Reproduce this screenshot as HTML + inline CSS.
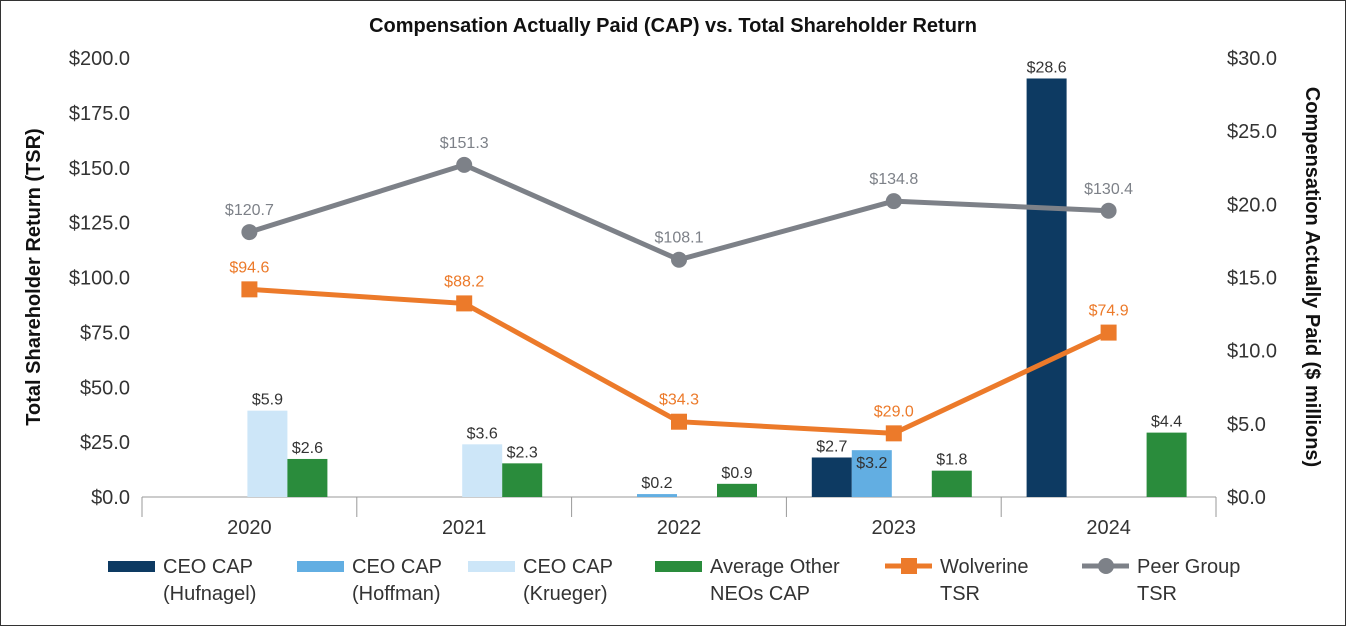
<!DOCTYPE html>
<html><head><meta charset="utf-8"><style>
html,body{margin:0;padding:0;background:#fff}
svg{display:block;font-family:"Liberation Sans",sans-serif}
</style></head><body>
<svg id="chart" width="1346" height="626" viewBox="0 0 1346 626">
<rect x="0.5" y="0.5" width="1345" height="625" fill="#fff" stroke="#333"/>
<text x="673" y="32" text-anchor="middle" font-size="20" font-weight="bold" fill="#111">Compensation Actually Paid (CAP) vs. Total Shareholder Return</text>
<text transform="translate(40,277) rotate(-90)" text-anchor="middle" font-size="20" font-weight="bold" fill="#111">Total Shareholder Return (TSR)</text>
<text transform="translate(1306,277) rotate(90)" text-anchor="middle" font-size="20" font-weight="bold" fill="#111">Compensation Actually Paid ($ millions)</text>
<g id="plot"></g>
<g id="legend"></g>
</svg>
<script>
const categories = ["2020","2021","2022","2023","2024"];
const hufnagel = [null,null,null,2.7,28.6];
const hoffman = [null,null,0.2,3.2,null];
const krueger = [5.9,3.6,null,null,null];
const avgNeo = [2.6,2.3,0.9,1.8,4.4];
const wolverineTsr = [94.6,88.2,34.3,29.0,74.9];
const peerTsr = [120.7,151.3,108.1,134.8,130.4];
const leftTicks = [0,25,50,75,100,125,150,175,200];
const rightTicks = [0,5,10,15,20,25,30];

const NS="http://www.w3.org/2000/svg";
const plot=document.getElementById('plot');
const X0=142,X1=1216,Y0=497,Y1=58;
const bw=(X1-X0)/categories.length;
const cx=i=>X0+bw*(i+0.5);
const yL=v=>Y0-(v/200)*(Y0-Y1);
const yR=v=>Y0-(v/30)*(Y0-Y1);
function mk(tag,attrs,parent){const e=document.createElementNS(NS,tag);for(const k in attrs)e.setAttribute(k,attrs[k]);(parent||plot).appendChild(e);return e;}
function txt(x,y,s,attrs){const t=mk('text',Object.assign({x:x,y:y},attrs));t.textContent=s;return t;}

leftTicks.forEach(v=>{
  const t=txt(130,yL(v)+7,'$'+v.toFixed(1),{'text-anchor':'end','font-size':20,fill:'#333'});
  
  
});
rightTicks.forEach(v=>{
  const t=txt(1227,yR(v)+7,'$'+v.toFixed(1),{'font-size':20,fill:'#333'});
  
  
});
const ax=mk('line',{x1:X0,x2:X1,y1:Y0,y2:Y0,stroke:'#999','stroke-width':1});


for(let i=0;i<=categories.length;i++){
  const tk=mk('line',{x1:X0+bw*i,x2:X0+bw*i,y1:Y0,y2:Y0+20,stroke:'#999'});
  
  
}
categories.forEach((c,i)=>{
  const t=txt(cx(i),Y0+37,c,{'text-anchor':'middle','font-size':20,fill:'#333'});
  
  
});

const series=[[hufnagel,'#0d3a62',-82,'hufnagel'],[hoffman,'#62aee2',-42,'hoffman'],[krueger,'#cde6f8',-2,'krueger'],[avgNeo,'#2a8c3c',38,'avg-neo']];
series.forEach(([arr,col,off,nm])=>{
  arr.forEach((v,i)=>{
    if(v==null)return;
    const y=yR(v);
    const r=mk('rect',{x:cx(i)+off,y:y,width:40,height:Y0-y,fill:col});
    
    
    const inside=(nm==='hoffman'&&v>3);
    const t=txt(cx(i)+off+20,inside?y+18:y-6,'$'+v.toFixed(1),{'text-anchor':'middle','font-size':16,fill:'#333'});
    
    
  });
});

function line(arr,col,nm,square){
  const pts=arr.map((v,i)=>[cx(i),yL(v)]);
  const p=mk('polyline',{points:pts.map(p=>p.join(',')).join(' '),fill:'none',stroke:col,'stroke-width':5});
  
  
  pts.forEach((q,i)=>{
    let m;
    if(square)m=mk('rect',{x:q[0]-8,y:q[1]-8,width:16,height:16,fill:col});
    else m=mk('circle',{cx:q[0],cy:q[1],r:8,fill:col});
    
    
    const t=txt(q[0],q[1]-17,'$'+arr[i].toFixed(1),{'text-anchor':'middle','font-size':16,fill:col});
    
    
  });
}
line(peerTsr,'#7d8188','peer-tsr',false);
line(wolverineTsr,'#ec7a2a','wolverine-tsr',true);

const lg=document.getElementById('legend');
const items=[[108,'bar','#0d3a62','CEO CAP','(Hufnagel)'],[297,'bar','#62aee2','CEO CAP','(Hoffman)'],[468,'bar','#cde6f8','CEO CAP','(Krueger)'],[655,'bar','#2a8c3c','Average Other','NEOs CAP'],[885,'sq','#ec7a2a','Wolverine','TSR'],[1082,'ci','#7d8188','Peer Group','TSR']];
items.forEach(([x,type,col,l1,l2])=>{
  const g=mk('g',{},lg);
  
  
  if(type==='bar')mk('rect',{x:x,y:561,width:47,height:11,fill:col},g);
  else{
    mk('line',{x1:x,x2:x+47,y1:566,y2:566,stroke:col,'stroke-width':5},g);
    if(type==='sq')mk('rect',{x:x+16,y:558,width:16,height:16,fill:col},g);
    else mk('circle',{cx:x+24,cy:566,r:8,fill:col},g);
  }
  const t1=mk('text',{x:x+55,y:573,'font-size':20,fill:'#333'},g);t1.textContent=l1;
  const t2=mk('text',{x:x+55,y:600,'font-size':20,fill:'#333'},g);t2.textContent=l2;
});
</script>
</body></html>
